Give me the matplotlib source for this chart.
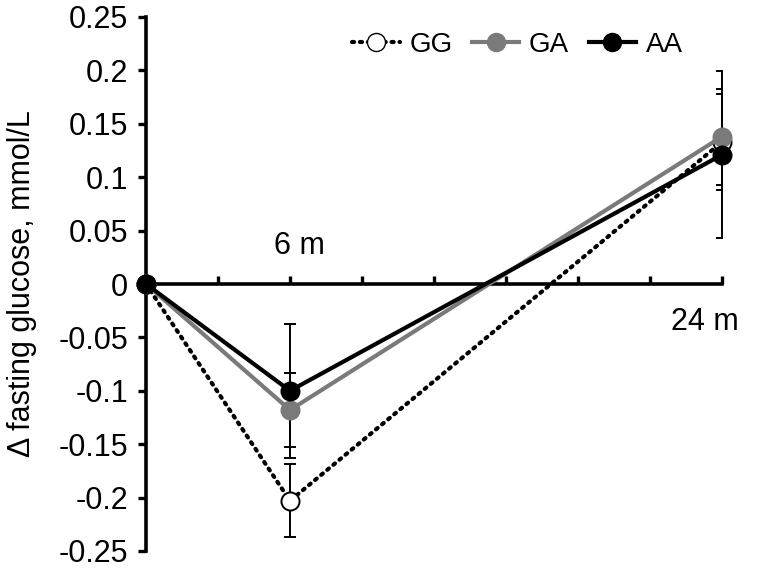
import matplotlib
matplotlib.use("Agg")
import matplotlib.pyplot as plt
from matplotlib.lines import Line2D

plt.rcParams['font.family'] = ['Liberation Sans', 'DejaVu Sans']

months = [0, 6, 24]
err_months = [6, 24]
gg = [0.0, -0.203, 0.133]
ga = [0.0, -0.118, 0.138]
aa = [0.0, -0.100, 0.121]
gg_err = [0.034, 0.045]
ga_err = [0.035, 0.045]
aa_err = [0.063, 0.078]
yticks = [0.25, 0.2, 0.15, 0.1, 0.05, 0, -0.05, -0.1, -0.15, -0.2, -0.25]
ytick_labels = ["0.25", "0.2", "0.15", "0.1", "0.05", "0", "-0.05", "-0.1", "-0.15", "-0.2", "-0.25"]
xticks = [3, 6, 9, 12, 15, 18, 21, 24]
x_labels = {6: "6 m", 24: "24 m"}

fig = plt.figure(figsize=(7.73, 5.68), dpi=100)
ax = fig.add_axes([146/773, 1-551/568, 576/773, 534/568])
ax.set_xlim(0, 24)
ax.set_ylim(-0.25, 0.25)

gray = '#7a7a7a'
dot = (0, (0.5, 1.4))
lw = 3.0
ms = 13
series = [
    (gg, gg_err, dict(color='black', linestyle=dot, dash_capstyle='round', marker='o',
                      markerfacecolor='white', markeredgecolor='black'), 3),
    (ga, ga_err, dict(color=gray, linestyle='-', marker='o', markerfacecolor=gray, markeredgecolor=gray), 4),
    (aa, aa_err, dict(color='black', linestyle='-', marker='o', markerfacecolor='black', markeredgecolor='black'), 5),
]
for vals, errs, style, z in series:
    eb = ax.errorbar(err_months, vals[1:], yerr=errs, fmt='none', ecolor='black',
                     elinewidth=1.4, capsize=4.5, capthick=1.4, zorder=2)
    for c in eb[1]:
        c.set_clip_on(True)
    for b in eb[2]:
        b.set_clip_on(False)
    ax.plot(months, vals, linewidth=lw, markersize=ms, markeredgewidth=1.4,
            zorder=z, clip_on=False, **style)

# spines
for s in ['top', 'right']:
    ax.spines[s].set_visible(False)
ax.spines['bottom'].set_position(('data', 0))
ax.spines['left'].set_linewidth(2.6)
ax.spines['bottom'].set_linewidth(2.6)
ax.spines['bottom'].set_zorder(1)

ax.set_yticks(yticks)
ax.set_yticklabels(ytick_labels)
ax.tick_params(axis='y', direction='out', length=6, width=2.4, pad=7, labelsize=22)
ax.set_xticks(xticks)
ax.set_xticklabels([])
ax.tick_params(axis='x', direction='in', length=6, width=2.4)

ax.set_ylabel("Δ fasting glucose, mmol/L", fontsize=22)
ax.yaxis.set_label_coords(-0.19, 0.5)

ax.text(6.4, 0.022, x_labels[6], fontsize=22, ha='center', va='bottom')
ax.text(23.3, -0.022, x_labels[24], fontsize=22, ha='center', va='top')

handles = [
    Line2D([], [], color='black', linestyle=dot, dash_capstyle='round', linewidth=lw,
           marker='o', markersize=ms, markerfacecolor='white', markeredgecolor='black'),
    Line2D([], [], color=gray, linewidth=lw, marker='o', markersize=ms,
           markerfacecolor=gray, markeredgecolor=gray),
    Line2D([], [], color='black', linewidth=lw, marker='o', markersize=ms,
           markerfacecolor='black', markeredgecolor='black'),
]
ax.legend(handles, ["GG", "GA", "AA"], ncol=3, frameon=False, fontsize=20,
          loc='center', bbox_to_anchor=(0.645, 0.948), handlelength=1.7,
          handletextpad=0.35, columnspacing=0.7)

fig.savefig("out.png", dpi=100)
